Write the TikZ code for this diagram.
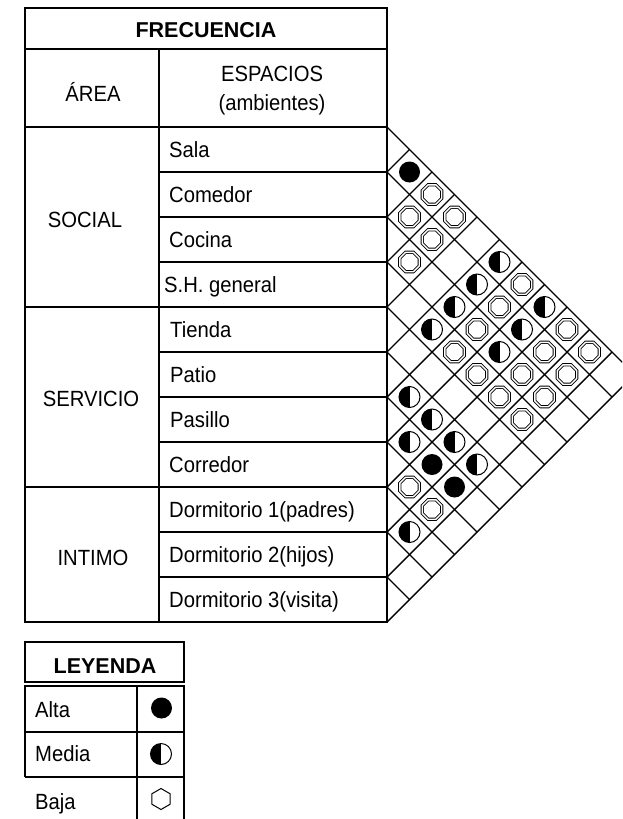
\documentclass[tikz,border=0pt]{standalone}
\usepackage{fontspec}
\setmainfont{Liberation Sans}[FakeStretch=0.92]
\newfontfamily\headfont{Liberation Sans}
\usetikzlibrary{shapes.geometric, calc}

\begin{document}
\begin{tikzpicture}[
    x=1pt, y=-1pt,
    font=\fontsize{22}{25}\selectfont,
    frame/.style   ={line width=1.6pt},
    grid/.style    ={line width=1.4pt},
    txt/.style     ={anchor=base west, inner sep=0pt},
    ctxt/.style    ={anchor=base, inner sep=0pt},
    head/.style    ={anchor=base, inner sep=0pt,
                     font=\headfont\fontsize{21.5}{24}\selectfont\bfseries},
    alta/.style    ={circle, fill=black, minimum size=21pt, inner sep=0pt},
    media/.style   ={circle, draw, line width=1pt, minimum size=21pt, inner sep=0pt,
                     path picture={\fill[black] (path picture bounding box.south west)
                       rectangle (path picture bounding box.north);}},
    baja/.style    ={regular polygon, regular polygon sides=8, draw, double,
                     line width=0.9pt, double distance=1.4pt,
                     minimum size=21pt, inner sep=0pt},
    bajaleg/.style ={regular polygon, regular polygon sides=6, draw, line width=1pt,
                     shape border rotate=90, minimum size=21pt, inner sep=0pt}
]
\useasboundingbox (0,0) rectangle (622,819);
\fill[white] (0,0) rectangle (622,819);
\clip (0,0) rectangle (622,819);

% =================== Table frame ===================
\draw[frame] (25,8) rectangle (387,622);
\draw[frame] (25,49) -- (387,49);
\draw[frame] (25,127) -- (387,127);
\draw[frame] (159,49) -- (159,622);
\draw[frame] (25,307) -- (387,307);
\draw[frame] (25,487) -- (387,487);
\foreach \k in {1,2,3,5,6,7,9,10}
  \draw[grid] (159,{127+45*\k}) -- (387,{127+45*\k});

% =================== Headers ===================
\node[head] (frec) at (206,37.5) {FRECUENCIA};
\node[ctxt] (area) at (93,101.5) {ÁREA};
\node[ctxt] (esp) at (272,81) {ESPACIOS};
\node[ctxt] (amb) at (272,110) {(ambientes)};

% =================== Areas ===================
\node[ctxt] (social) at (85,227.5) {SOCIAL};
\node[ctxt] (servicio) at (91,406) {SERVICIO};
\node[ctxt] (intimo) at (93,565) {INTIMO};

% =================== Spaces ===================
\foreach \name/\xo [count=\k] in {Sala/169, Comedor/169, Cocina/169,
    S.H. general/164, Tienda/170, Patio/170, Pasillo/170, Corredor/169,
    Dormitorio 1(padres)/169, Dormitorio 2(hijos)/169, Dormitorio 3(visita)/169}
  \node[txt] (sp\k) at (\xo,{127+45*(\k-0.5)+7.5}) {\name};

% =================== Relation matrix grid ===================
\foreach \k in {0,...,10} {
  \pgfmathsetmacro\ya{127+45*\k}
  \pgfmathsetmacro\t{(622-\ya)/2}
  \draw[grid] (387,\ya) -- ++(\t,\t);
}
\foreach \k in {1,...,11} {
  \pgfmathsetmacro\ya{127+45*\k}
  \pgfmathsetmacro\t{(\ya-127)/2}
  \draw[grid] (387,\ya) -- ++(\t,-\t);
}

% =================== Relations ===================
\foreach \i/\j in {1/2, 7/9, 7/10}
  \node[alta] (rel-\i-\j) at ({387+22.5*(\j-\i)},{127+22.5*(\i+\j-1)}) {};
\foreach \i/\j in {1/6, 2/6, 3/6, 4/6, 1/8, 2/8, 3/8, 6/7, 6/8, 7/8, 6/9, 6/10, 9/10}
  \node[media] (rel-\i-\j) at ({387+22.5*(\j-\i)},{127+22.5*(\i+\j-1)}) {};
\foreach \i/\j in {1/3, 2/3, 1/4, 2/4, 3/4, 1/7, 2/7, 3/7, 4/7, 4/8, 1/9, 2/9,
    3/9, 4/9, 8/9, 1/10, 2/10, 3/10, 4/10, 8/10}
  \node[baja] (rel-\i-\j) at ({387+22.5*(\j-\i)},{127+22.5*(\i+\j-1)}) {};

% =================== Legend ===================
\draw[frame] (25,642) rectangle (184,682);
\node[head] (ley) at (105,673) {LEYENDA};
\draw[frame] (25,777) -- (25,686) -- (184,686) -- (184,830);
\draw[grid] (25,732) -- (184,732);
\draw[grid] (25,777) -- (184,777);
\draw[grid] (137,686) -- (137,830);
\node[txt] (alta) at (35,717.5) {Alta};
\node[txt] (media) at (35,761.5) {Media};
\node[txt] (baja) at (35,809) {Baja};
\node[alta] (symalta) at (161.5,708) {};
\node[media] (symmedia) at (161,754) {};
\node[bajaleg] (symbaja) at (161,799) {};

\end{tikzpicture}
\end{document}
